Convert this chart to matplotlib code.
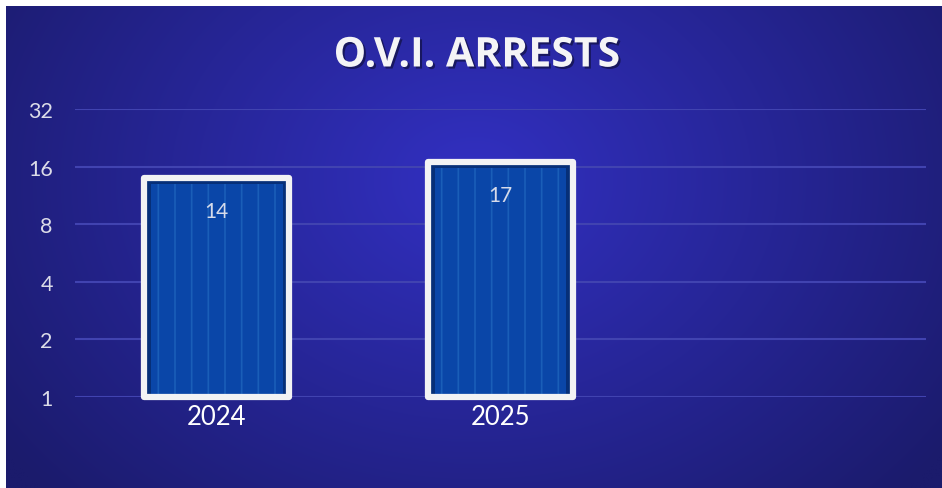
import numpy as np
import matplotlib
matplotlib.use("Agg")
import matplotlib.pyplot as plt
import matplotlib.patheffects as pe

categories = ["2024", "2025", ""]
values = [14, 17]
yticks = [1, 2, 4, 8, 16, 32]
title = "O.V.I. ARRESTS"

W, H = 942, 489
fig = plt.figure(figsize=(W / 100, H / 100), dpi=100, facecolor="white")

# background panel with radial gradient
bg = fig.add_axes([6 / W, 0, 936 / W, 482 / H])
bg.set_axis_off()
ny, nx = 240, 470
yy, xx = np.mgrid[0:ny, 0:nx]
cx, cy = nx * 0.50, ny * 0.36
r = np.sqrt(((xx - cx) / (nx * 0.62)) ** 2 + ((yy - cy) / (ny * 0.95)) ** 2)
r = np.clip(r, 0, 1)
c_in = np.array([0x32, 0x30, 0xc2]) / 255
c_out = np.array([0x1b, 0x1b, 0x6c]) / 255
img = c_in[None, None, :] * (1 - r[..., None]) + c_out[None, None, :] * r[..., None]
bg.imshow(img, aspect="auto", extent=[0, 1, 0, 1], origin="upper", interpolation="bilinear")
bg.set_xlim(0, 1)
bg.set_ylim(0, 1)

ax = fig.add_axes([75 / W, (H - 398) / H, 851 / W, 288 / H])
ax.patch.set_alpha(0)
ax.set_yscale("log", base=2)
ax.set_ylim(1, 32)
ax.set_xlim(-0.5, 2.5)
for s in ax.spines.values():
    s.set_visible(False)
ax.set_yticks(yticks)
ax.set_yticklabels([str(t) for t in yticks])
ax.minorticks_off()
ax.set_xticks(range(len(categories)))
ax.set_xticklabels(categories)
ax.tick_params(axis="y", length=0, pad=16, labelsize=15.5, labelcolor="#dcdce8")
ax.tick_params(axis="x", length=0, pad=5, labelsize=18.5, labelcolor="white")
for lbl in ax.get_yticklabels() + ax.get_xticklabels():
    lbl.set_family("Lato")
ax.grid(axis="y", color="#4143b0", linewidth=1.5)
ax.set_axisbelow(True)

x = np.arange(len(values))
bw = 0.51
px_per_cat = 851 / 3
px_per_oct = 288 / 5
inset = 6.5
plt.rcParams["hatch.linewidth"] = 1.2
# dark inner bevel
ax.bar(x, [v - 1 for v in values], bottom=1, width=bw, color="#062f78",
       linewidth=0, clip_on=False, zorder=2)
# stripe fill (inset)
inner_top = [v * 2 ** (-inset / px_per_oct) for v in values]
ax.bar(x, [t - 1 for t in inner_top], bottom=1, width=bw - 2 * inset / px_per_cat,
       color="#0a46a8", edgecolor="#1a5eb8", linewidth=0, hatch="|",
       clip_on=False, zorder=3)
# white frame
ax.bar(x, [v - 1 for v in values], bottom=1, width=bw, fill=False,
       edgecolor="#f2f2f4", linewidth=4.5, clip_on=False, zorder=4,
       joinstyle="round")

for xi, v in zip(x, values):
    ax.annotate(str(v), (xi, v), xytext=(0, -31), textcoords="offset points",
                ha="center", va="bottom", fontsize=15, color="#d6dbea",
                family="Lato", zorder=5)

fig.text(477 / W, 1 - 57 / H, title, ha="center", va="center",
         fontsize=29.5, fontweight="bold", family="Open Sans", color="#f4f4f6",
         path_effects=[pe.withSimplePatchShadow(offset=(1.5, -1.5), shadow_rgbFace="#0c0c30", alpha=0.6)])

fig.savefig("out.png", dpi=100, facecolor=fig.get_facecolor())
